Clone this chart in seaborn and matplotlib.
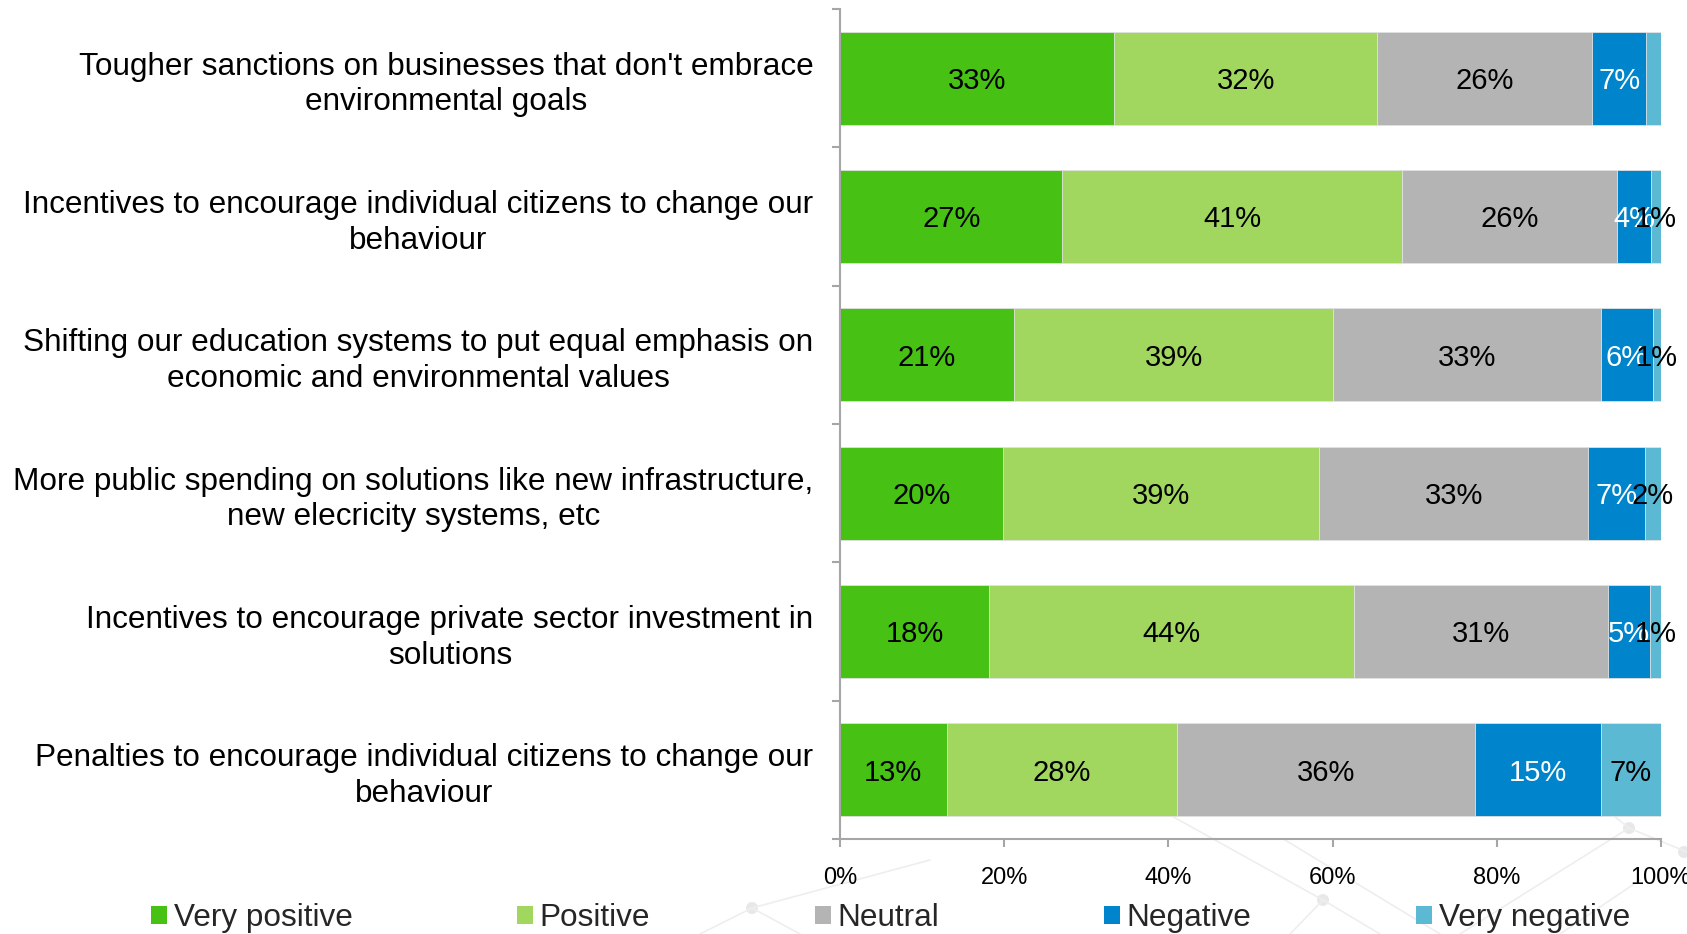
import numpy as np
import pandas as pd
import matplotlib
matplotlib.use("Agg")
import matplotlib.pyplot as plt
from matplotlib.patches import Patch, Circle
from matplotlib.lines import Line2D
from matplotlib.ticker import FixedLocator, PercentFormatter
import seaborn as sns

# Survey statements (one horizontal bar each)
statements = [
    "Tougher sanctions on businesses that don't embrace\nenvironmental goals",
    "Incentives to encourage individual citizens to change our\nbehaviour",
    "Shifting our education systems to put equal emphasis on\neconomic and environmental values",
    "More public spending on solutions like new infrastructure,\nnew elecricity systems, etc",
    "Incentives to encourage private sector investment in\nsolutions",
    "Penalties to encourage individual citizens to change our\nbehaviour",
]
responses = ["Very positive", "Positive", "Neutral", "Negative", "Very negative"]

# Share of respondents (%) per response level
very_positive = [33.4, 27.1, 21.2, 19.8, 18.2, 13.0]
positive = [32.0, 41.4, 38.9, 38.6, 44.4, 28.0]
neutral = [26.2, 26.2, 32.6, 32.7, 31.0, 36.4]
negative = [6.6, 4.1, 6.3, 6.9, 5.0, 15.3]
very_negative = [1.8, 1.2, 1.0, 2.0, 1.4, 7.3]

x_ticks = [0, 20, 40, 60, 80, 100]

# segments left without a value label
unlabelled = {("Very negative", 0)}

colors = {
    "Very positive": "#46C114",
    "Positive": "#A1D65F",
    "Neutral": "#B4B4B4",
    "Negative": "#0085CC",
    "Very negative": "#5BB9D3",
}
label_colors = {
    "Very positive": "black",
    "Positive": "black",
    "Neutral": "black",
    "Negative": "white",
    "Very negative": "black",
}

series = [very_positive, positive, neutral, negative, very_negative]
rows = []
for resp, vals in zip(responses, series):
    for i, (stmt, v) in enumerate(zip(statements, vals)):
        rows.append({"statement": stmt, "idx": i, "response": resp, "value": v})
df = pd.DataFrame(rows)
df["response"] = pd.Categorical(df["response"], categories=responses, ordered=True)
df = df.sort_values(["idx", "response"]).reset_index(drop=True)
df["end"] = df.groupby("idx")["value"].cumsum()
df["start"] = df["end"] - df["value"]

sns.set_theme(style="white")
plt.rcParams["font.family"] = ["Liberation Sans", "DejaVu Sans"]

W, H = 1687, 934
fig = plt.figure(figsize=(W / 100, H / 100), dpi=100)

# faint network decoration in the background
deco = fig.add_axes([0, 0, 1, 1], zorder=-5)
deco.set_xlim(0, W)
deco.set_ylim(H, 0)
deco.axis("off")
net_lines = [
    [(700, 934), (752, 908), (800, 934)],
    [(752, 908), (930, 860)],
    [(1170, 815), (1323, 900), (1290, 934)],
    [(1323, 900), (1380, 934)],
    [(1285, 840), (1440, 934)],
    [(1460, 934), (1629, 828), (1687, 852)],
    [(1629, 828), (1600, 805)],
    [(1560, 934), (1640, 880)],
]
node_pts = [(752, 908), (1323, 900), (1629, 828), (1684, 852)]
for pts in net_lines:
    xs, ys = zip(*pts)
    deco.add_line(Line2D(xs, ys, color="#EEEEEE", lw=1.2))
for (px, py) in node_pts:
    deco.add_patch(Circle((px, py), 6, color="#E8E8E8", lw=0))

ax = fig.add_axes([840 / W, 1 - 839 / H, (1661 - 840) / W, (839 - 9) / H])
ax.patch.set_alpha(0)

# stacked bars: draw cumulative totals from the outermost segment inwards
for resp in reversed(responses):
    sub = df[df["response"] == resp]
    sns.barplot(
        data=sub, x="end", y="statement", order=statements,
        color=colors[resp], saturation=1, width=0.673, orient="h",
        errorbar=None, edgecolor="#E4E4E4", linewidth=0.6, ax=ax,
    )

for _, r in df.iterrows():
    if (r["response"], r["idx"]) in unlabelled:
        continue
    ax.text(
        (r["start"] + r["end"]) / 2, r["idx"] + 0.02, f"{round(r['value']):.0f}%",
        ha="center", va="center", fontsize=21,
        color=label_colors[r["response"]],
    )

ax.set_xlim(0, 100)
ax.set_ylim(len(statements) - 0.5, -0.5)
ax.set_xlabel("")
ax.set_ylabel("")
ax.xaxis.set_major_locator(FixedLocator(x_ticks))
ax.xaxis.set_major_formatter(PercentFormatter(decimals=0))
ax.yaxis.set_minor_locator(FixedLocator(np.arange(-0.5, len(statements), 1.0)))

spine_col = "#A6A6A6"
for s in ["top", "right"]:
    ax.spines[s].set_visible(False)
for s in ["left", "bottom"]:
    ax.spines[s].set_color(spine_col)
    ax.spines[s].set_linewidth(1.5)

ax.tick_params(axis="x", which="major", bottom=True, direction="out", length=6,
               width=1.5, color=spine_col, pad=14, labelsize=17, labelcolor="black")
ax.tick_params(axis="y", which="major", left=False, length=0, pad=19,
               labelsize=22.7, labelcolor="black")
ax.tick_params(axis="y", which="minor", left=True, direction="out", length=6,
               width=1.5, color=spine_col)
for lbl in ax.get_yticklabels():
    lbl.set_multialignment("center")
    lbl.set_linespacing(1.25)

handles = [Patch(facecolor=colors[r], edgecolor="none", label=r) for r in responses]
fig.legend(
    handles=handles, ncol=5, loc="center left",
    bbox_to_anchor=(151 / W, 1 - 918 / H), frameon=False, fontsize=22.7,
    handlelength=0.5, handleheight=0.5, handletextpad=0.22,
    columnspacing=5.22, borderpad=0, borderaxespad=0,
)

fig.savefig("out.png", dpi=100)
